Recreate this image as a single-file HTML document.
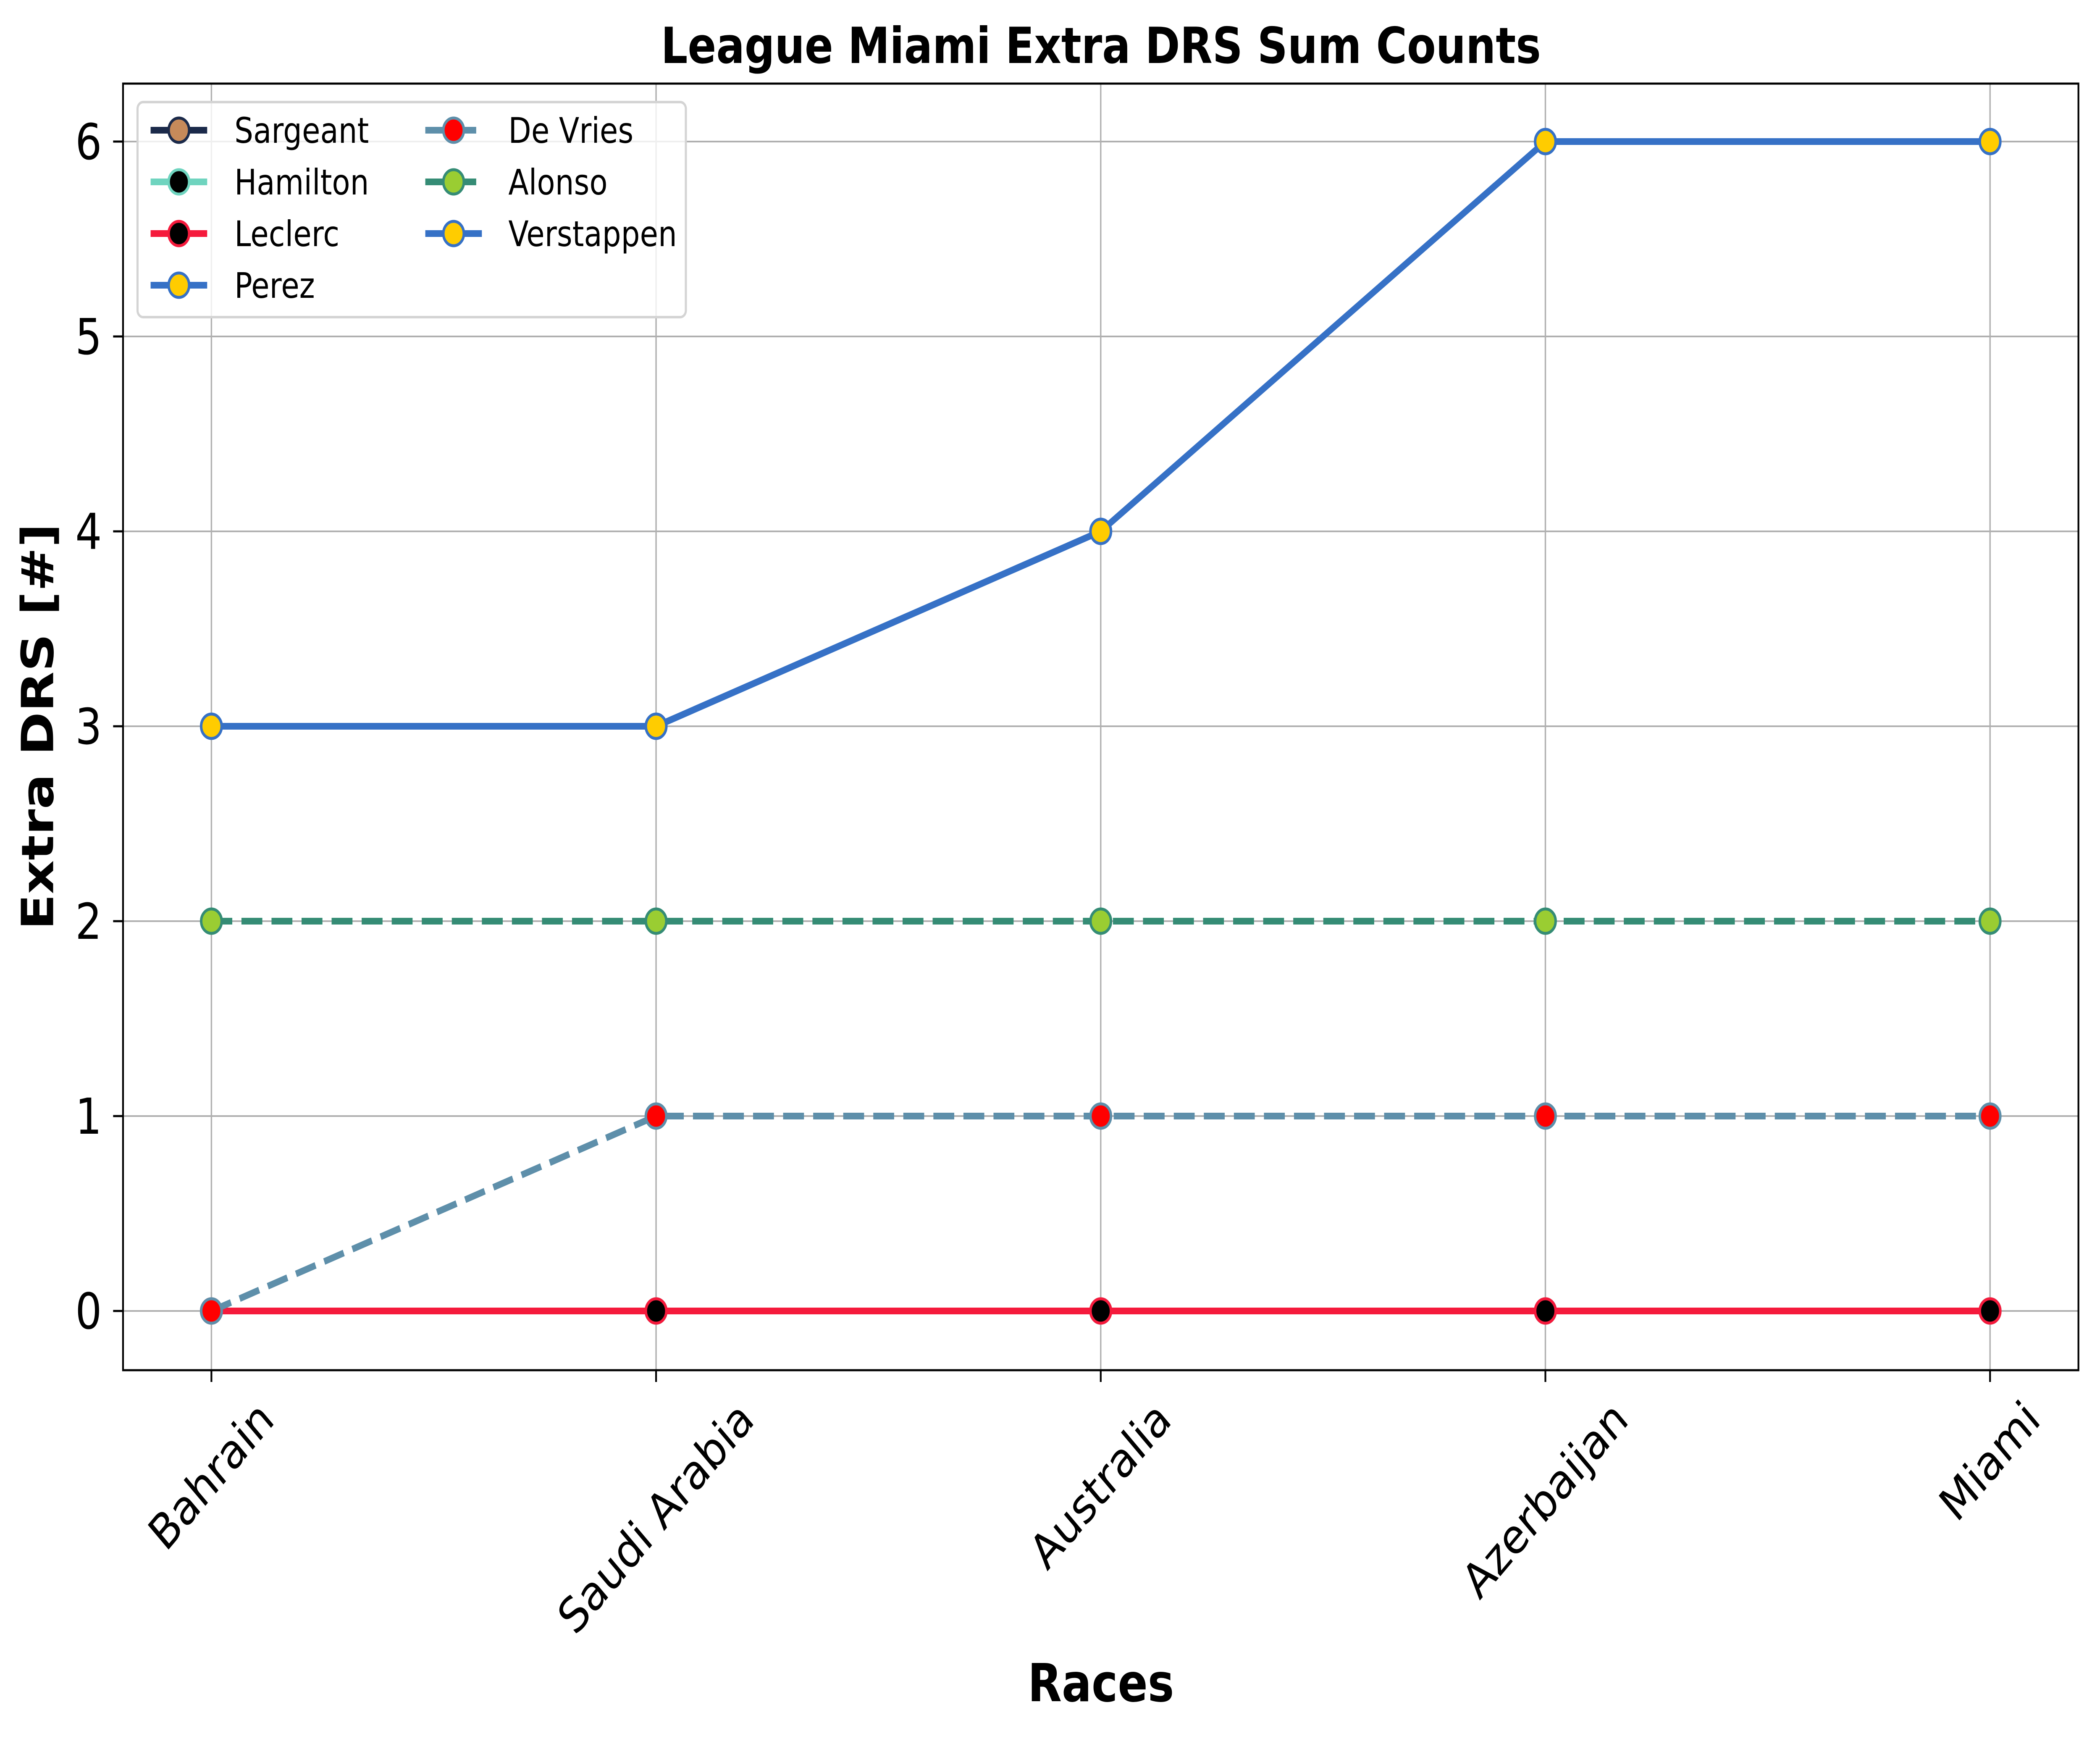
<!DOCTYPE html>
<html><head><meta charset="utf-8"><style>
html,body{margin:0;padding:0;background:#fff;width:100%;height:100%;overflow:hidden}
svg{display:block;position:absolute;left:0;top:0;width:100vw;height:100vh;font-family:"DejaVu Sans","Liberation Sans",sans-serif}
</style></head><body>
<svg id="chart" viewBox="0 0 5940 4140" preserveAspectRatio="none" xmlns="http://www.w3.org/2000/svg">
<rect width="5940" height="4140" fill="#fff"/>
<text x="3114" y="150" text-anchor="middle" font-size="119" font-weight="bold">League Miami Extra DRS Sum Counts</text>
<g id="grid"></g>
<g id="series"></g>
<rect x="348" y="199" width="5531" height="3063" fill="none" stroke="#000" stroke-width="5"/>
<g id="axes"></g>
<text x="3114" y="4050" text-anchor="middle" font-size="125" font-weight="bold">Races</text>
<text transform="translate(150,1730) rotate(-90)" text-anchor="middle" font-size="125" font-weight="bold">Extra DRS [#]</text>
<g id="legend"></g>
</svg>
<script>
const races = ["Bahrain","Saudi Arabia","Australia","Azerbaijan","Miami"];
const yTicks = [0,1,2,3,4,5,6];
const drivers = ["Sargeant","Hamilton","Leclerc","Perez","De Vries","Alonso","Verstappen"];
const sargeant = [0,0,0,0,0];
const hamilton = [0,0,0,0,0];
const leclerc = [0,0,0,0,0];
const perez = [3,3,4,6,6];
const devries = [0,1,1,1,1];
const alonso = [2,2,2,2,2];
const verstappen = [3,3,4,6,6];

const seriesVals = [sargeant,hamilton,leclerc,perez,devries,alonso,verstappen];
const lineColors = ["#1b2a4a","#6fd4bf","#f51a3c","#3671c6","#5e8faa","#358c75","#3671c6"];
const faceColors = ["#c68a5a","#000000","#000000","#ffcc00","#ff0000","#9acd32","#ffcc00"];
const dashed = [false,false,false,false,true,true,false];

const NS="http://www.w3.org/2000/svg";
const X0=598, X1=5629, Y0=3121, YU=464;
function xs(i){return X0+(X1-X0)*i/(races.length-1);}
function ys(v){return Y0-v*YU;}
function mk(tag,attrs,parent){const e=document.createElementNS(NS,tag);for(const k in attrs)e.setAttribute(k,attrs[k]);parent.appendChild(e);return e;}
const grid=document.getElementById('grid'), axes=document.getElementById('axes'), ser=document.getElementById('series'), leg=document.getElementById('legend');

races.forEach((r,i)=>{
  const g=mk('line',{x1:xs(i),x2:xs(i),y1:199,y2:3262,stroke:"#b0b0b0","stroke-width":4},grid);
  
  
  const t=mk('line',{x1:xs(i),x2:xs(i),y1:3262,y2:3290,stroke:"#000","stroke-width":5},axes);
  
  
  const lab=mk('text',{"font-size":114,"text-anchor":"middle"},axes);
  lab.textContent=r;
  
  
  const w=lab.getComputedTextLength(), h=114*0.95;
  const bh=(w+h)*Math.SQRT1_2;
  const cy=3320+bh/2;
  lab.setAttribute('transform',`translate(${xs(i)},${cy}) rotate(-45)`);
  lab.setAttribute('y',h*0.35);
});
yTicks.forEach(v=>{
  const g=mk('line',{x1:348,x2:5879,y1:ys(v),y2:ys(v),stroke:"#b0b0b0","stroke-width":4},grid);
  
  
  const t=mk('line',{x1:320,x2:348,y1:ys(v),y2:ys(v),stroke:"#000","stroke-width":5},axes);
  
  
  const lab=mk('text',{x:288,y:ys(v)+42,"font-size":118,"text-anchor":"end"},axes);
  lab.textContent=String(v);
  
  
});

seriesVals.forEach((vals,s)=>{
  const g=mk('g',{},ser);
  
  
  const pts=vals.map((v,i)=>xs(i)+','+ys(v)).join(' ');
  const pl=mk('polyline',{points:pts,fill:"none",stroke:lineColors[s],"stroke-width":16,"stroke-linejoin":"round"},g);
  if(dashed[s]) pl.setAttribute('stroke-dasharray','59 26');
  
  
  vals.forEach((v,i)=>{
    const c=mk('circle',{cx:xs(i),cy:ys(v),r:29,fill:faceColors[s],stroke:lineColors[s],"stroke-width":7},g);
    
    
  });
});

const box=mk('rect',{x:389,y:243,width:1551,height:512,rx:16,fill:"#fff","fill-opacity":0.8,stroke:"#d4d4d4","stroke-width":6},leg);


const cols=[{mx:506,tx:663},{mx:1283,tx:1438}];
drivers.forEach((d,s)=>{
  const col=s<4?0:1, row=s<4?s:s-4;
  const c=cols[col], y=310+row*123;
  const g=mk('g',{},leg);
  
  
  const ln=mk('line',{x1:c.mx-80,x2:c.mx+80,y1:y,y2:y,stroke:lineColors[s],"stroke-width":16},g);
  if(dashed[s]) ln.setAttribute('stroke-dasharray','59 26');
  mk('circle',{cx:c.mx,cy:y,r:29,fill:faceColors[s],stroke:lineColors[s],"stroke-width":7},g);
  const t=mk('text',{x:c.tx,y:y+30,"font-size":84},g);
  t.textContent=d;
});
</script>
</body></html>
